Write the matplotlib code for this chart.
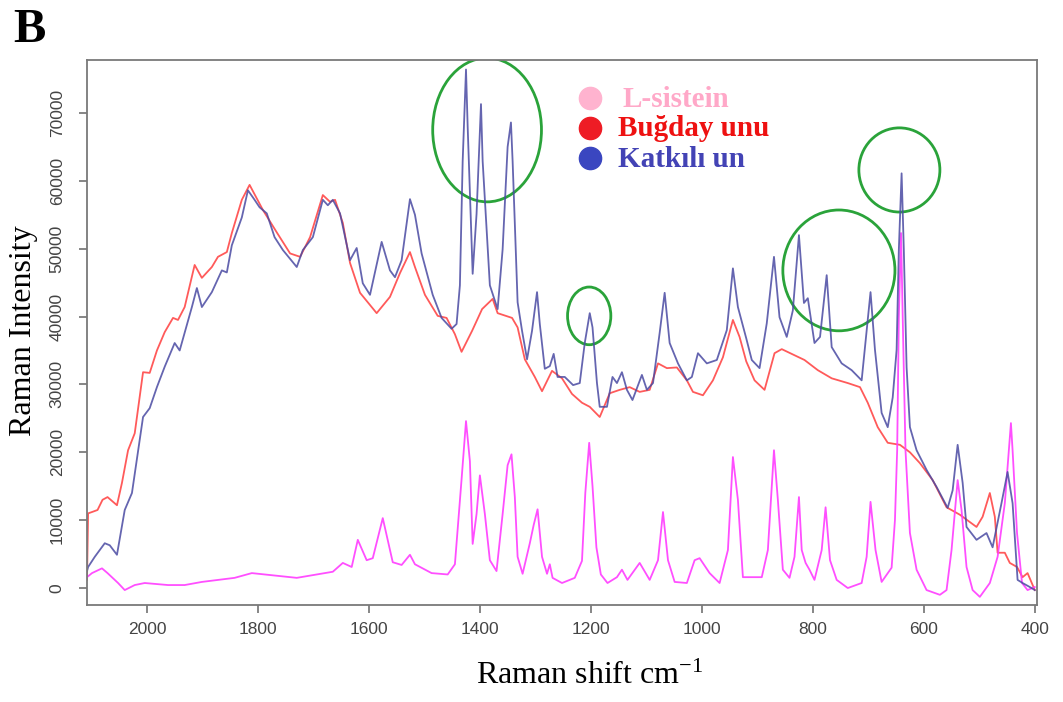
import matplotlib
matplotlib.use("Agg")
import matplotlib.pyplot as plt
from matplotlib.patches import Ellipse

# Raman shift (cm-1) and intensity, one pair of lists per sample
KATKILI_X = [2108, 2106, 2094, 2076, 2067, 2054, 2040, 2027, 2007, 1995, 1982, 1968,
             1950, 1941, 1919, 1910, 1901, 1883, 1865, 1856, 1847, 1829, 1818, 1806,
             1797, 1784, 1770, 1755, 1730, 1719, 1701, 1683, 1674, 1665, 1652, 1634,
             1622, 1611, 1598, 1577, 1562, 1553, 1541, 1526, 1517, 1505, 1485, 1469,
             1451, 1442, 1436, 1431, 1425, 1422, 1413, 1406, 1398, 1395, 1382, 1368,
             1359, 1350, 1344, 1341, 1332, 1324, 1315, 1306, 1297, 1292, 1283, 1274,
             1267, 1260, 1247, 1232, 1220, 1211, 1202, 1197, 1189, 1184, 1171, 1161,
             1153, 1144, 1135, 1125, 1108, 1099, 1088, 1076, 1067, 1058, 1043, 1027,
             1018, 1007, 991, 973, 955, 944, 935, 920, 910, 896, 883, 870, 860, 847,
             836, 825, 816, 809, 797, 787, 775, 766, 748, 730, 712, 696, 688, 676,
             665, 656, 649, 645, 640, 636, 631, 625, 613, 595, 577, 557, 548, 539,
             530, 523, 505, 487, 476, 460, 449, 440, 431, 422, 409, 400]
KATKILI_Y = [2500, 3100, 4600, 6600, 6300, 4900, 11500, 14000, 25200, 26500, 29600, 32600,
             36100, 35000, 41400, 44200, 41400, 43600, 46800, 46500, 50500, 54600, 58600, 57200,
             56100, 55200, 51700, 49800, 47300, 49800, 51700, 57200, 56400, 57200, 55200, 48300,
             50100, 44900, 43200, 51000, 46800, 45800, 48300, 57300, 55000, 49300, 43200, 39800,
             38200, 38900, 44600, 62900, 76400, 68000, 46300, 55100, 71300, 62900, 44600, 41100,
             49900, 65000, 68600, 62900, 42100, 37900, 33700, 37900, 43600, 38900, 32300, 32700,
             34500, 31100, 31100, 29900, 30200, 36100, 40500, 38400, 30200, 26700, 26700, 31100,
             30200, 31800, 29200, 27700, 31400, 29200, 30200, 37600, 43500, 36100, 33100, 30600,
             31100, 34600, 33100, 33600, 38000, 47100, 41400, 36800, 33600, 32400, 39000, 48800,
             39900, 37000, 40900, 52000, 42000, 42700, 36100, 37000, 46100, 35500, 33100, 32100,
             30600, 43600, 35100, 25800, 23700, 28100, 35100, 49800, 61100, 49800, 32500, 23700,
             20300, 17400, 14900, 11800, 14400, 21100, 15500, 9000, 7100, 8100, 6000, 12500,
             17100, 12500, 1200, 740, 150, -300]

BUGDAY_X = [2108, 2106, 2099, 2089, 2080, 2071, 2054, 2045, 2034, 2022, 2007, 1995,
            1982, 1968, 1953, 1944, 1932, 1914, 1901, 1883, 1872, 1856, 1847, 1829,
            1815, 1791, 1766, 1742, 1724, 1706, 1683, 1670, 1661, 1647, 1634, 1616,
            1586, 1562, 1544, 1526, 1517, 1499, 1476, 1460, 1445, 1433, 1414, 1396,
            1377, 1368, 1342, 1332, 1319, 1301, 1288, 1270, 1252, 1234, 1216, 1202,
            1184, 1166, 1148, 1130, 1112, 1094, 1079, 1063, 1045, 1027, 1016, 998,
            980, 962, 944, 932, 920, 905, 887, 869, 856, 833, 815, 791, 766, 737,
            715, 701, 683, 665, 643, 625, 607, 584, 559, 535, 505, 494, 481, 472,
            467, 454, 445, 432, 422, 413, 400]
BUGDAY_Y = [1200, 11000, 11200, 11500, 13000, 13400, 12200, 15500, 20300, 22800, 31800, 31700,
            35000, 37700, 39800, 39500, 41400, 47600, 45700, 47300, 48800, 49500, 52300, 57200,
            59400, 55700, 52400, 49300, 48800, 51700, 57900, 56900, 57200, 53800, 47900, 43500,
            40500, 42900, 46400, 49500, 47300, 43200, 40100, 39800, 37400, 34800, 37900, 41100,
            42600, 40500, 39800, 38400, 33700, 31100, 29000, 32000, 30900, 28600, 27300, 26700,
            25200, 28700, 29200, 29600, 28900, 29200, 33100, 32400, 32500, 30600, 28900, 28400,
            30600, 34000, 39500, 37000, 33400, 30600, 29200, 34600, 35200, 34300, 33600, 32100,
            30900, 30200, 29600, 27300, 23700, 21400, 21100, 20000, 18400, 15900, 11900, 10800,
            9000, 10500, 14000, 10500, 5200, 5200, 3700, 3100, 1600, 2200, -300]

SISTEIN_X = [2108, 2099, 2081, 2071, 2052, 2040, 2022, 2004, 1962, 1932, 1901, 1872,
             1842, 1811, 1730, 1665, 1647, 1631, 1620, 1604, 1593, 1575, 1557, 1541,
             1526, 1517, 1487, 1458, 1445, 1433, 1425, 1418, 1413, 1406, 1400, 1391,
             1382, 1370, 1359, 1350, 1343, 1337, 1332, 1323, 1310, 1303, 1296, 1288,
             1279, 1274, 1269, 1252, 1229, 1216, 1210, 1203, 1197, 1190, 1182, 1170,
             1153, 1144, 1134, 1112, 1094, 1079, 1070, 1061, 1049, 1027, 1013, 1004,
             986, 968, 953, 944, 935, 926, 892, 881, 870, 863, 854, 842, 833, 825,
             820, 813, 806, 797, 784, 777, 769, 757, 737, 712, 703, 696, 687, 676,
             658, 652, 648, 645, 641, 638, 633, 625, 613, 595, 571, 559, 550, 542,
             539, 532, 523, 512, 499, 481, 467, 454, 443, 440, 432, 423, 413, 400]
SISTEIN_Y = [1600, 2200, 2900, 2200, 740, -300, 440, 740, 440, 440, 900, 1200,
             1500, 2200, 1500, 2400, 3700, 3100, 7100, 4100, 4400, 10300, 3800, 3400,
             4900, 3500, 2200, 2000, 3500, 16000, 24600, 18700, 6500, 10900, 16600, 10900,
             4100, 2500, 10900, 18100, 19700, 13400, 4600, 2100, 6600, 9300, 11600, 4600,
             2100, 3500, 1500, 740, 1500, 4000, 14000, 21400, 15000, 6000, 2000, 740,
             1600, 2700, 1200, 3700, 1200, 4100, 11200, 4100, 900, 740, 4100, 4400,
             2200, 740, 5600, 19300, 13000, 1600, 1600, 5600, 20300, 13000, 2700, 1500,
             4600, 13400, 5600, 3700, 2700, 1200, 5600, 11900, 4100, 1200, 0, 740,
             4600, 12700, 5600, 900, 3000, 10000, 20300, 39900, 52300, 39900, 20300, 8100,
             2700, -300, -1000, -300, 5600, 13000, 15900, 11500, 3100, -300, -1300, 740,
             4600, 12500, 24300, 20300, 8100, 740, -300, 150]

X_TICKS = [2000, 1800, 1600, 1400, 1200, 1000, 800, 600, 400]
Y_TICKS = [0, 10000, 20000, 30000, 40000, 50000, 60000, 70000]

# legend entries: label, marker colour, text colour
LEGEND = [
    ("L-sistein", "#ffb3cf", "#ffa8c8"),
    ("Buğday unu", "#ee1c25", "#ee1111"),
    ("Katkılı un", "#3a46c0", "#4343b5"),
]

# green rings marking the cysteine bands: (centre shift, centre intensity, width, height)
HIGHLIGHTS = [
    (1387, 67500, 196, 21200),
    (1203, 40100, 78, 8500),
    (753, 46800, 202, 17800),
    (644, 61600, 146, 12400),
]

SERIF = "Liberation Serif"
SANS = "Liberation Sans"
plt.rcParams["mathtext.default"] = "regular"

fig = plt.figure(figsize=(10.63, 7.02), dpi=100)
ax = fig.add_axes([87 / 1063, 1 - 605 / 702, 950 / 1063, 545 / 702])

ax.plot(BUGDAY_X, BUGDAY_Y, color="#ff5a5a", lw=1.3)
ax.plot(SISTEIN_X, SISTEIN_Y, color="#ff3cff", lw=1.3, alpha=0.9)
ax.plot(KATKILI_X, KATKILI_Y, color="#4a4aa2", lw=1.3, alpha=0.85)

for cx, cy, w, h in HIGHLIGHTS:
    ax.add_patch(Ellipse((cx, cy), w, h, fill=False, edgecolor="#2aa33a", lw=2.0))

ax.set_xlim(2108, 396)
ax.set_ylim(-2500, 77800)
ax.set_xticks(X_TICKS)
ax.set_yticks(Y_TICKS)
ax.tick_params(direction="out", length=6, width=1.1, color="#666666",
               labelsize=12.5, labelcolor="#444444")
ax.tick_params(axis="x", pad=6)
ax.tick_params(axis="y", pad=10, labelrotation=90)
for lab in ax.get_xticklabels() + ax.get_yticklabels():
    lab.set_fontfamily(SANS)
for lab in ax.get_yticklabels():
    lab.set_va("center")
for sp in ax.spines.values():
    sp.set_color("#7a7a7a")
    sp.set_linewidth(1.3)

ax.set_xlabel("Raman shift cm$^{-1}$", family=SERIF, fontsize=23)
ax.xaxis.set_label_coords(0.5295, -0.105)
ax.set_ylabel("Raman Intensity", family=SERIF, fontsize=23)
ax.yaxis.set_label_coords(-0.052, 0.503)

marker_y = [0.93, 0.875, 0.82]
text_y = [0.9138, 0.8606, 0.8037]
for (label, mcol, tcol), my, ty in zip(LEGEND, marker_y, text_y):
    ax.plot([0.529], [my], "o", ms=16, color=mcol, transform=ax.transAxes, clip_on=False)
    tx = 0.564 if label.startswith("L") else 0.559
    ax.text(tx, ty, label, transform=ax.transAxes, color=tcol, family=SERIF,
            weight="bold", fontsize=21, va="baseline", ha="left")

fig.text(13 / 1063, 1 - 42 / 702, "B", family=SERIF, weight="bold", fontsize=35,
         va="baseline", ha="left")

fig.savefig("out.png", dpi=100)
